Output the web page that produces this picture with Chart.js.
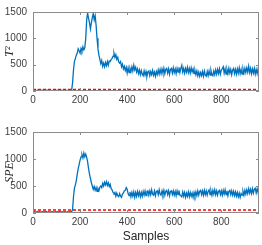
<!DOCTYPE html>
<html>
<head>
<meta charset="utf-8">
<script src="https://cdn.jsdelivr.net/npm/chart.js"></script>
<style>
  body { margin: 0; background: #fff; }
  canvas { display: block; }
</style>
</head>
<body>
<canvas id="t2Chart" width="262" height="120"></canvas>
<canvas id="speChart" width="262" height="125"></canvas>
<script>
// one value every 4 samples, samples 0..960
var sampleStep = 4;
var xTicks = [0, 200, 400, 600, 800];
var yTicks = [0, 500, 1000, 1500];

var t2Limit = 30;
var speLimit = 55;

var t2Values = [
  // 0 - 160
  12, 8, 15, 6, 10, 18, 9, 13, 7, 11,
  16, 8, 12, 5, 14, 10, 19, 7, 11, 9,
  13, 6, 17, 10, 8, 12, 15, 9, 11, 7,
  14, 10, 6, 13, 9, 16, 8, 12, 10, 7,
  11,
  // 164 - 396
  14, 150, 400, 560, 620, 680, 720, 800, 760, 720,
  810, 760, 840, 780, 820, 1000, 1350, 1480, 1380, 1300,
  1180, 1300, 1400, 1470, 1350, 1430, 1250, 1000, 800, 680,
  600, 520, 580, 470, 530, 460, 540, 480, 560, 490,
  570, 560, 600, 620, 660, 720, 640, 690, 600, 640,
  550, 530, 560, 460, 510, 420, 470, 390, 450,
  // 400 - 960
  340, 440, 350, 430, 370, 460, 380, 490, 400, 450,
  360, 420, 330, 400, 310, 390, 320, 290, 380, 300,
  370, 280, 360, 380, 290, 370, 310, 390, 300, 360,
  280, 370, 310, 400, 320, 410, 330, 420, 340, 430,
  330, 410, 430, 340, 420, 320, 410, 430, 340, 440,
  350, 420, 330, 430, 360, 450, 350, 430, 490, 360,
  430, 340, 430, 360, 450, 350, 430, 340, 440, 360,
  420, 330, 390, 310, 380, 290, 360, 280, 350, 290,
  370, 280, 380, 300, 280, 370, 290, 380, 300, 390,
  310, 290, 380, 310, 400, 320, 410, 330, 420, 320,
  400, 420, 460, 340, 420, 320, 410, 330, 430, 340,
  410, 310, 400, 430, 330, 410, 320, 420, 340, 440,
  330, 410, 320, 420, 340, 430, 350, 440, 360, 470,
  350, 430, 330, 420, 340, 430, 320, 410, 330, 420,
  340
];

var speValues = [
  // 0 - 160
  22, 18, 26, 15, 20, 28, 19, 24, 17, 21,
  25, 16, 23, 19, 27, 20, 18, 24, 21, 16,
  26, 19, 22, 17, 25, 20, 23, 18, 28, 21,
  19, 24, 16, 22, 26, 18, 21, 25, 17, 23,
  20,
  // 164 - 396
  25, 60, 300, 460, 520, 600, 720, 820, 900, 980,
  1040, 1080, 1020, 1110, 1040, 1090, 1030, 950, 820, 720,
  640, 560, 500, 440, 490, 420, 470, 400, 450, 410,
  480, 500, 470, 550, 500, 570, 520, 580, 510, 560,
  490, 530, 450, 430, 380, 360, 380, 310, 370, 320,
  300, 360, 310, 290, 350, 370, 410, 420, 470,
  // 400 - 960
  440, 360, 320, 390, 300, 380, 310, 390, 290, 380,
  310, 400, 320, 390, 300, 380, 310, 400, 330, 410,
  320, 400, 410, 330, 410, 340, 430, 350, 330, 410,
  320, 400, 410, 340, 430, 350, 330, 410, 340, 420,
  330, 400, 420, 340, 410, 320, 400, 410, 340, 410,
  330, 400, 320, 410, 340, 420, 330, 320, 300, 390,
  310, 380, 290, 370, 310, 390, 300, 380, 310, 370,
  290, 380, 310, 390, 320, 410, 330, 400, 420, 340,
  410, 330, 420, 340, 410, 330, 400, 430, 340, 410,
  330, 420, 350, 430, 340, 410, 330, 400, 420, 340,
  410, 330, 420, 350, 430, 340, 410, 320, 400, 420,
  340, 410, 330, 400, 320, 390, 310, 380, 300, 370,
  290, 360, 330, 400, 330, 420, 350, 430, 360, 450,
  370, 440, 360, 450, 370, 440, 460, 370, 450, 380,
  450
];

var tickFont = { family: "Liberation Sans", size: 10 };

// box round the plot with small inward ticks, like matlab
var boxPlugin = {
  id: "box",
  afterDatasetsDraw: function (chart) {
    var ctx = chart.ctx;
    var a = chart.chartArea;
    var x = chart.scales.x;
    var y = chart.scales.y;
    ctx.save();
    ctx.strokeStyle = "#8c8c8c";
    ctx.lineWidth = 1;
    ctx.strokeRect(Math.round(a.left) + 0.5, Math.round(a.top) + 0.5,
      Math.round(a.right - a.left) - 1, Math.round(a.bottom - a.top) - 1);
    ctx.beginPath();
    xTicks.forEach(function (v) {
      var px = Math.round(x.getPixelForValue(v)) + 0.5;
      ctx.moveTo(px, a.bottom); ctx.lineTo(px, a.bottom - 3);
      ctx.moveTo(px, a.top); ctx.lineTo(px, a.top + 3);
    });
    yTicks.forEach(function (v) {
      var py = Math.round(y.getPixelForValue(v)) + 0.5;
      ctx.moveTo(a.left, py); ctx.lineTo(a.left + 3, py);
      ctx.moveTo(a.right, py); ctx.lineTo(a.right - 3, py);
    });
    ctx.stroke();
    ctx.restore();
  },
};

function plainTick(value) {
  return String(value);
}

function createMonitorChart(elementId, values, limit, yTitle, showXTitle, padTop, xHeight) {
  var points = values.map(function (v, i) {
    return { x: i * sampleStep, y: v };
  });
  var limitPoints = [{ x: 0, y: limit }, { x: 960, y: limit }];

  return new Chart(document.getElementById(elementId), {
    type: "line",
    data: {
      datasets: [
        {
          data: points,
          borderColor: "#0072BD",
          borderWidth: 1.3,
          pointRadius: 0,
          tension: 0,
          order: 1,
        },
        {
          // control limit, drawn on top
          data: limitPoints,
          borderColor: "#ff0000",
          borderWidth: 1.5,
          borderDash: [3, 2],
          pointRadius: 0,
          order: 0,
        },
      ],
    },
    options: {
      responsive: false,
      animation: false,
      layout: { padding: { top: padTop, right: 3, left: 0, bottom: 0 } },
      plugins: {
        legend: { display: false },
        tooltip: { enabled: false },
      },
      scales: {
        x: {
          type: "linear",
          min: 0,
          max: 960,
          afterBuildTicks: function (s) {
            s.ticks = xTicks.map(function (v) { return { value: v }; });
          },
          afterFit: function (s) { s.height = xHeight; },
          grid: { display: false, drawTicks: false },
          border: { display: false },
          ticks: { font: tickFont, color: "#404040", padding: 3, maxRotation: 0, callback: plainTick },
          title: {
            display: showXTitle,
            text: "Samples",
            font: { family: "Liberation Sans", size: 12 },
            color: "#262626",
            padding: { top: 0, bottom: 1 },
          },
        },
        y: {
          min: 0,
          max: 1500,
          afterBuildTicks: function (s) {
            s.ticks = yTicks.map(function (v) { return { value: v }; });
          },
          afterFit: function (s) { s.width = 33; },
          grid: { display: false, drawTicks: false },
          border: { display: false },
          ticks: { font: tickFont, color: "#404040", padding: 6, callback: plainTick },
          title: {
            display: true,
            text: yTitle,
            font: { family: "Liberation Serif", style: "italic", size: 12 },
            color: "#262626",
            padding: { top: 3, bottom: 0 },
          },
        },
      },
    },
    plugins: [boxPlugin],
  });
}

createMonitorChart("t2Chart", t2Values, t2Limit, "T²", false, 6, 29);
createMonitorChart("speChart", speValues, speLimit, "SPE", true, 7, 32);
</script>
</body>
</html>
